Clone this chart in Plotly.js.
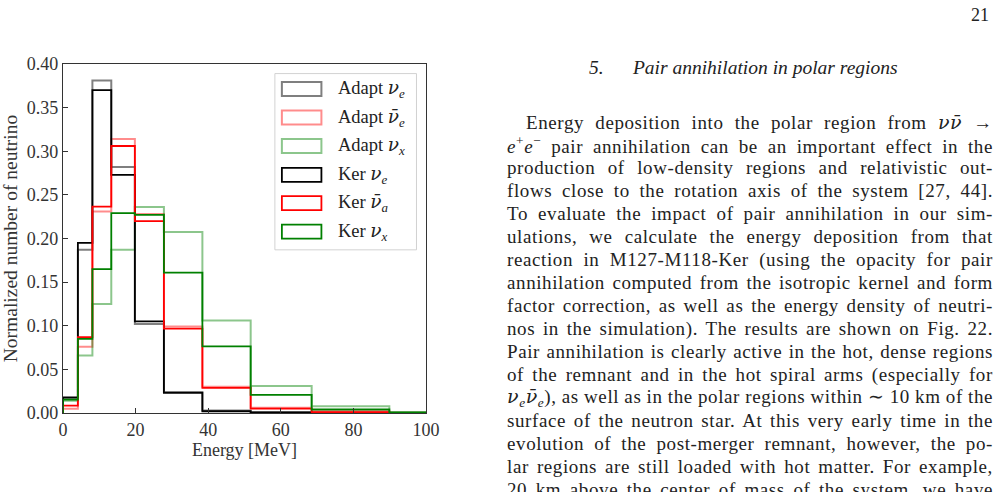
<!DOCTYPE html>
<html>
<head>
<meta charset="utf-8">
<script src="https://cdn.plot.ly/plotly-3.0.1.min.js"></script>
<style>
  html, body { margin: 0; padding: 0; background: #fff; overflow: hidden; }
  #chart { width: 1000px; height: 492px; }
</style>
</head>
<body>
<div id="chart"></div>
<script>
// ---------- data ----------
const binEdges = [0, 4.1, 8.1, 13.3, 19.8, 27.8, 38.4, 51.7, 68.5, 89.9, 100];
const adaptNue    = [0.016, 0.187, 0.381, 0.282, 0.102, 0.024, 0.003, 0.001, 0.0003, 0.0001];
const adaptNuebar = [0.005, 0.076, 0.231, 0.314, 0.228, 0.099, 0.030, 0.006, 0.002, 0.0002];
const adaptNux    = [0.014, 0.066, 0.125, 0.187, 0.236, 0.2075, 0.106, 0.031, 0.0077, 0.001];
const kerNue      = [0.018, 0.195, 0.370, 0.273, 0.105, 0.023, 0.002, 0.0008, 0.0002, 0.0];
const kerNuebar   = [0.0085, 0.087, 0.2365, 0.306, 0.220, 0.0966, 0.0287, 0.005, 0.001, 0.0001];
const kerNux      = [0.0153, 0.085, 0.165, 0.229, 0.227, 0.161, 0.0763, 0.0207, 0.004, 0.0006];

const NU = '<span style="font-family:DejaVu Serif"><i>ν</i></span>';
const NUBAR = '<span style="font-family:DejaVu Serif"><i>ν̄</i></span>';
const seriesNames = ['Adapt ' + NU + '<sub><i>e</i></sub>', 'Adapt ' + NUBAR + '<sub><i>e</i></sub>', 'Adapt ' + NU + '<sub><i>x</i></sub>',
                     'Ker ' + NU + '<sub><i>e</i></sub>', 'Ker ' + NUBAR + '<sub><i>a</i></sub>', 'Ker ' + NU + '<sub><i>x</i></sub>'];
const xTickVals = [0, 20, 40, 60, 80, 100];
const yTickVals = [0, 0.05, 0.10, 0.15, 0.20, 0.25, 0.30, 0.35, 0.40];

const pageNumber = '21';
const sectionTitle = '<i>5.\u2003\u2002Pair annihilation in polar regions</i>';
const pageLines = [
  'Energy deposition into the polar region from ' + NU + NUBAR + ' →',
  '<i>e</i><sup>+</sup><i>e</i><sup>−</sup> pair annihilation can be an important effect in the',
  'production of low-density regions and relativistic out-',
  'flows close to the rotation axis of the system [27, 44].',
  'To evaluate the impact of pair annihilation in our sim-',
  'ulations, we calculate the energy deposition from that',
  'reaction in M127-M118-Ker (using the opacity for pair',
  'annihilation computed from the isotropic kernel and form',
  'factor correction, as well as the energy density of neutri-',
  'nos in the simulation). The results are shown on Fig. 22.',
  'Pair annihilation is clearly active in the hot, dense regions',
  'of the remnant and in the hot spiral arms (especially for',
  NU + '<sub><i>e</i></sub>' + NUBAR + '<sub><i>e</i></sub>), as well as in the polar regions within ∼ 10 km of the',
  'surface of the neutron star. At this very early time in the',
  'evolution of the post-merger remnant, however, the po-',
  'lar regions are still loaded with hot matter. For example,',
  '20 km above the center of mass of the system, we have'
];

// ---------- styling ----------
const colors = ['rgba(0,0,0,0.5)', 'rgba(255,0,0,0.45)', 'rgba(0,128,0,0.45)', '#000000', '#ff0000', '#008000'];
const widths = [2, 2, 2, 1.8, 1.8, 1.8];
const allSeries = [adaptNue, adaptNuebar, adaptNux, kerNue, kerNuebar, kerNux];
const FONT = 'Liberation Serif, Times New Roman, serif';

// plot area in pixels
const PL = 63.3, PR = 426, PT = 63.9, PB = 413.4;
const W = 1000, H = 492;
const px2x = p => (p - PL) / (PR - PL);
const py2y = p => (PB - p) / (PB - PT);

function stepXY(edges, vals) {
  const x = [edges[0]], y = [0];
  for (let i = 0; i < vals.length; i++) { x.push(edges[i]); y.push(vals[i]); }
  x.push(edges[edges.length - 1]); y.push(vals[vals.length - 1]);
  x.push(edges[edges.length - 1]); y.push(0);
  return {x, y};
}

const traces = allSeries.map((vals, i) => {
  const s = stepXY(binEdges, vals);
  return {
    type: 'scatter', mode: 'lines', x: s.x, y: s.y,
    line: {shape: 'hv', color: colors[i], width: widths[i]},
    name: seriesNames[i], showlegend: false, hoverinfo: 'skip'
  };
});

// custom matplotlib-like legend
const shapes = [];
const annotations = [];
shapes.push({type: 'rect', xref: 'paper', yref: 'paper',
  x0: px2x(275), x1: px2x(416.5), y0: py2y(73.5), y1: py2y(250),
  line: {color: 'rgba(205,205,205,0.9)', width: 1}, fillcolor: 'rgba(255,255,255,0.8)', layer: 'above'});
const rowY = [89, 117.5, 146, 175, 203.3, 231.7];
rowY.forEach((yy, i) => {
  shapes.push({type: 'rect', xref: 'paper', yref: 'paper',
    x0: px2x(282), x1: px2x(321.5), y0: py2y(yy - 7), y1: py2y(yy + 7),
    line: {color: colors[i], width: widths[i]}, fillcolor: 'rgba(0,0,0,0)', layer: 'above'});
  annotations.push({xref: 'paper', yref: 'paper', x: px2x(336), y: py2y(yy), xanchor: 'left', yanchor: 'middle', align: 'left',
    text: seriesNames[i], showarrow: false, font: {family: FONT, size: 18.5, color: '#222'}});
});

// page text
annotations.push({xref: 'paper', yref: 'paper', x: px2x(991), y: py2y(15), xanchor: 'right', yanchor: 'middle',
  text: pageNumber, showarrow: false, font: {family: FONT, size: 18, color: '#222'}});
annotations.push({xref: 'paper', yref: 'paper', x: px2x(743), y: py2y(67), xanchor: 'center', yanchor: 'middle',
  text: sectionTitle, showarrow: false, font: {family: FONT, size: 19.5, color: '#222'}});
const firstLineAnn = annotations.length;
pageLines.forEach((t, i) => {
  annotations.push({xref: 'paper', yref: 'paper', x: px2x(i === 0 ? 524 : 505), y: py2y(122 + i * 23), xanchor: 'left', yanchor: 'middle', align: 'left',
    text: t, showarrow: false, font: {family: FONT, size: 19, color: '#222'}});
});

const layout = {
  width: W, height: H,
  margin: {l: PL, r: W - PR, t: PT, b: H - PB, pad: 0},
  paper_bgcolor: '#fff', plot_bgcolor: '#fff',
  showlegend: false,
  font: {family: FONT, size: 18, color: '#333'},
  xaxis: {
    range: [0, 100], tickvals: xTickVals, ticktext: xTickVals.map(v => String(v)),
    ticks: 'inside', ticklen: 5, tickwidth: 1, tickcolor: '#333',
    showline: true, linecolor: '#333', linewidth: 1.2, mirror: true,
    showgrid: false, zeroline: false,
    tickfont: {family: FONT, size: 18, color: '#333'},
    title: {text: 'Energy [MeV]', font: {family: FONT, size: 18, color: '#333'}, standoff: 2}
  },
  yaxis: {
    range: [0, 0.4], tickvals: yTickVals, ticktext: yTickVals.map(v => v.toFixed(2)),
    ticks: 'inside', ticklen: 5, tickwidth: 1, tickcolor: '#333',
    showline: true, linecolor: '#333', linewidth: 1.2, mirror: true,
    showgrid: false, zeroline: false,
    tickfont: {family: FONT, size: 18, color: '#333'},
    title: {text: 'Normalized number of neutrino', font: {family: FONT, size: 19.5, color: '#333'}, standoff: 4}
  },
  shapes: shapes,
  annotations: annotations
};

Plotly.newPlot('chart', traces, layout, {displayModeBar: false, staticPlot: true}).then(() => {
  // justify the page-text lines to the right margin (like the typeset page)
  try {
    const RIGHT = 993;
    const svgRect = document.querySelector('#chart .main-svg').getBoundingClientRect();
    document.querySelectorAll('#chart .annotation').forEach(g => {
      const idx = +g.getAttribute('data-index');
      if (!(idx >= firstLineAnn)) return;
      const txt = g.querySelector('text.annotation-text');
      if (!txt) return;
      txt.style.letterSpacing = '0.6px';
      const r = txt.getBoundingClientRect();
      const left = r.left - svgRect.left;
      const width = r.width;
      const spaces = (txt.textContent.match(/ /g) || []).length;
      const extra = (RIGHT - (left + width)) / Math.max(spaces, 1);
      if (extra > -3) txt.style.wordSpacing = extra.toFixed(2) + 'px';
    });
  } catch (e) { console.log(e); }
});
</script>
</body>
</html>
